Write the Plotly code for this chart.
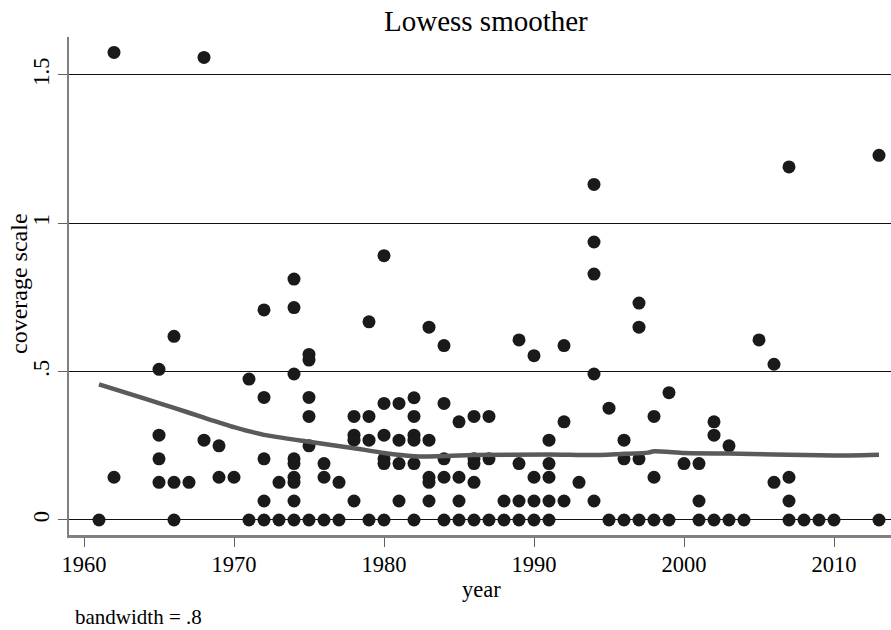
import plotly.graph_objects as go

# ---- data ----
years = (
    [1961] +
    [1962] * 2 +
    [1965] * 4 +
    [1966] * 3 +
    [1967] +
    [1968] * 2 +
    [1969] * 2 +
    [1970] +
    [1971] * 2 +
    [1972] * 5 +
    [1973] * 2 +
    [1974] * 9 +
    [1975] * 6 +
    [1976] * 3 +
    [1977] * 2 +
    [1978] * 4 +
    [1979] * 4 +
    [1980] * 6 +
    [1981] * 4 +
    [1982] * 6 +
    [1983] * 5 +
    [1984] * 5 +
    [1985] * 4 +
    [1986] * 5 +
    [1987] * 3 +
    [1988] * 2 +
    [1989] * 4 +
    [1990] * 4 +
    [1991] * 5 +
    [1992] * 3 +
    [1993] +
    [1994] * 5 +
    [1995] * 2 +
    [1996] * 3 +
    [1997] * 4 +
    [1998] * 3 +
    [1999] * 2 +
    [2000] +
    [2001] * 3 +
    [2002] * 3 +
    [2003] * 2 +
    [2004] +
    [2005] +
    [2006] * 2 +
    [2007] * 4 +
    [2008] +
    [2009] +
    [2010] +
    [2013] * 2
)

coverage = [
    0,
    1.576, 0.144,
    0.508, 0.286, 0.206, 0.127,
    0.619, 0.127, 0,
    0.127,
    1.559, 0.269,
    0.250, 0.144,
    0.144,
    0.475, 0,
    0.708, 0.413, 0.206, 0.064, 0,
    0.127, 0,
    0.812, 0.716, 0.492, 0.206, 0.190, 0.144, 0.127, 0.064, 0,
    0.558, 0.539, 0.413, 0.349, 0.250, 0,
    0.190, 0.144, 0,
    0.127, 0,
    0.349, 0.286, 0.269, 0.064,
    0.668, 0.349, 0.269, 0,
    0.891, 0.393, 0.286, 0.206, 0.190, 0,
    0.393, 0.269, 0.190, 0.064,
    0.412, 0.349, 0.286, 0.269, 0.190, 0,
    0.650, 0.269, 0.144, 0.127, 0.064,
    0.588, 0.393, 0.206, 0.144, 0,
    0.331, 0.144, 0.064, 0,
    0.349, 0.206, 0.190, 0.127, 0,
    0.349, 0.206, 0,
    0.064, 0,
    0.607, 0.190, 0.064, 0,
    0.554, 0.144, 0.064, 0,
    0.269, 0.190, 0.144, 0.064, 0,
    0.588, 0.331, 0.064,
    0.127,
    1.131, 0.937, 0.829, 0.492, 0.064,
    0.377, 0,
    0.269, 0.206, 0,
    0.731, 0.650, 0.206, 0,
    0.349, 0.144, 0,
    0.429, 0,
    0.190,
    0.190, 0.064, 0,
    0.331, 0.286, 0,
    0.250, 0,
    0,
    0.607,
    0.525, 0.127,
    1.190, 0.144, 0.064, 0,
    0,
    0,
    0,
    1.229, 0,
]

# lowess smooth
smooth_years = [1961, 1964, 1966, 1968, 1970, 1972, 1975, 1978, 1980, 1982, 1983,
                1986, 1991, 1994, 1996, 1997.6, 1998, 2000, 2003, 2006, 2010, 2013]
smooth_vals = [0.457, 0.410, 0.378, 0.345, 0.313, 0.287, 0.264, 0.242, 0.226, 0.215, 0.214,
               0.219, 0.221, 0.219, 0.223, 0.227, 0.232, 0.226, 0.224, 0.221, 0.217, 0.220]

x_ticks = [1960, 1970, 1980, 1990, 2000, 2010]
y_ticks = [0, 0.5, 1, 1.5]
y_tick_text = ["0", ".5", "1", "1.5"]

FONT = "Liberation Serif, Times New Roman, serif"

fig = go.Figure()
fig.add_trace(go.Scatter(
    x=years, y=coverage, mode="markers",
    marker=dict(size=13, color="#1a1a1a", line=dict(width=0)),
    hoverinfo="x+y", showlegend=False,
))
fig.add_trace(go.Scatter(
    x=smooth_years, y=smooth_vals, mode="lines",
    line=dict(color="#5a5a5a", width=4.5, shape="spline", smoothing=0.5),
    showlegend=False,
))

W, H = 891, 630
L, R, T, B = 69, 0, 37, 95
PW, PH = W - L - R, H - T - B

fig.update_layout(
    width=W, height=H,
    margin=dict(l=L, r=R, t=T, b=B, pad=0),
    paper_bgcolor="white", plot_bgcolor="white",
    font=dict(family=FONT, color="black", size=22),
    xaxis=dict(
        range=[1959.0, 2013.8], tickvals=x_ticks, ticktext=[str(v) for v in x_ticks],
        showgrid=False, zeroline=False,
        showline=True, linecolor="#808080", linewidth=2.5,
        ticks="outside", ticklen=9, tickcolor="#606060", tickwidth=1.2,
        tickfont=dict(family=FONT, size=22.5, color="black"),
        ticklabelstandoff=-2,
    ),
    yaxis=dict(
        range=[-0.0506, 1.628], tickvals=y_ticks, ticktext=y_tick_text,
        showgrid=True, gridcolor="#111111", gridwidth=1.2,
        zeroline=False,
        showline=True, linecolor="#808080", linewidth=1.5,
        ticks="outside", ticklen=9, tickcolor="#606060", tickwidth=1.2,
        tickangle=-90,
        tickfont=dict(family=FONT, size=22.5, color="black"),
        ticklabelstandoff=0,
    ),
    annotations=[
        dict(text="Lowess smoother", xref="paper", yref="paper",
             x=(486 - L) / PW, y=1 + (T - 21) / PH,
             xanchor="center", yanchor="middle", showarrow=False,
             font=dict(family=FONT, size=29, color="black")),
        dict(text="coverage scale", xref="paper", yref="paper",
             x=(19 - L) / PW, y=(H - B - 284) / PH, textangle=-90,
             xanchor="center", yanchor="middle", showarrow=False,
             font=dict(family=FONT, size=24, color="black")),
        dict(text="year", xref="paper", yref="paper",
             x=(481 - L) / PW, y=-(589 - (H - B)) / PH,
             xanchor="center", yanchor="middle", showarrow=False,
             font=dict(family=FONT, size=22.5, color="black")),
        dict(text="bandwidth = .8", xref="paper", yref="paper",
             x=(73 - L) / PW, y=-(617 - (H - B)) / PH,
             xanchor="left", yanchor="middle", showarrow=False,
             font=dict(family=FONT, size=21, color="black")),
    ],
)

fig.write_html("out.html", config={"displayModeBar": False},
               post_script="document.body.style.margin='0';document.body.style.overflow='hidden';")
